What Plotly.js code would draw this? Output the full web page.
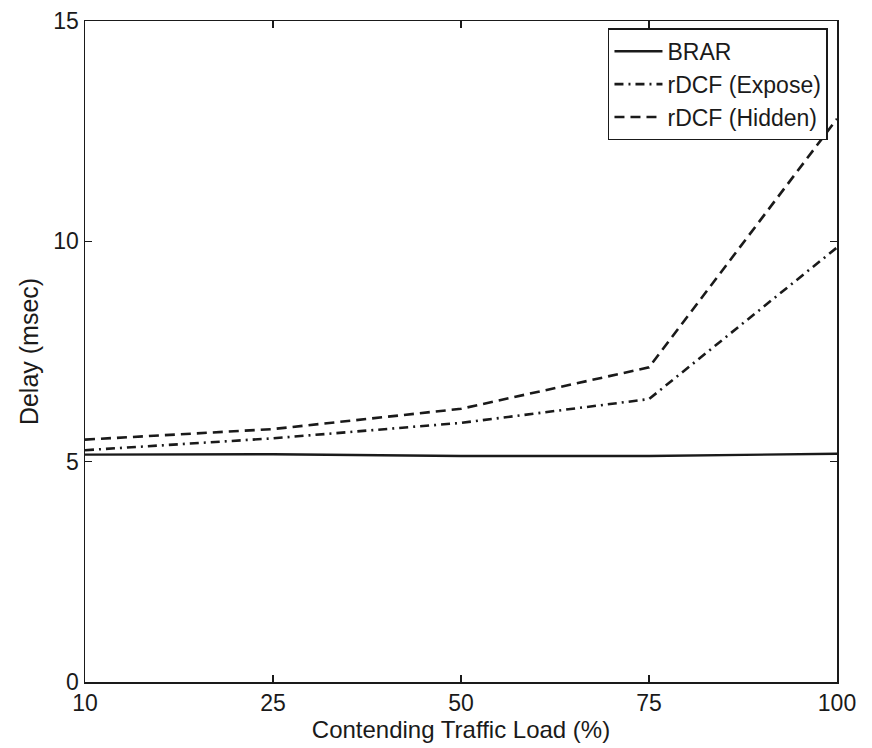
<!DOCTYPE html>
<html>
<head>
<meta charset="utf-8">
<script src="https://cdn.plot.ly/plotly-3.0.1.min.js"></script>
<style>html,body{margin:0;padding:0;background:#fff;}#chart{width:872px;height:748px;}</style>
</head>
<body>
<div id="chart"></div>
<script>
const loadLabels = ["10", "25", "50", "75", "100"];
const brarDelay = [5.16, 5.17, 5.13, 5.13, 5.18];
const exposeDelay = [5.26, 5.53, 5.88, 6.42, 9.86];
const hiddenDelay = [5.5, 5.74, 6.2, 7.14, 12.78];
const yTicks = [0, 5, 10, 15];

const font = "Liberation Sans, Arial, sans-serif";
const ink = "#1a1a1a";

const traces = [
  {x: loadLabels, y: brarDelay, name: "BRAR", type: "scatter", mode: "lines",
   line: {color: ink, width: 2.4, dash: "solid"}},
  {x: loadLabels, y: exposeDelay, name: "rDCF (Expose)", type: "scatter", mode: "lines",
   line: {color: ink, width: 2.6, dash: "9px,5px,2px,5px"}},
  {x: loadLabels, y: hiddenDelay, name: "rDCF (Hidden)", type: "scatter", mode: "lines",
   line: {color: ink, width: 2.6, dash: "10px,6px"}}
];

const axisCommon = {
  showline: true, linecolor: ink, linewidth: 1.5, mirror: "ticks",
  ticks: "inside", ticklen: 7, tickwidth: 1.5, tickcolor: ink,
  showgrid: false, zeroline: false,
  tickfont: {family: font, size: 23, color: ink}
};

const layout = {
  width: 872, height: 748,
  margin: {l: 85, r: 35, t: 21, b: 66},
  paper_bgcolor: "#fff", plot_bgcolor: "#fff",
  showlegend: true,
  legend: {
    x: 0.988, xanchor: "right", y: 0.989, yanchor: "top",
    bordercolor: ink, borderwidth: 1.5, bgcolor: "#fff",
    font: {family: font, size: 23, color: ink},
    itemwidth: 48,
    tracegroupgap: 0
  },
  xaxis: Object.assign({}, axisCommon, {
    type: "category", range: [0, 4],
    title: {text: "Contending Traffic Load (%)", font: {family: font, size: 24, color: ink}, standoff: 2}
  }),
  yaxis: Object.assign({}, axisCommon, {
    range: [0, 15], tickvals: yTicks, ticktext: yTicks.map(String),
    title: {text: "Delay (msec)", font: {family: font, size: 25, color: ink}, standoff: 7}
  })
};

Plotly.newPlot("chart", traces, layout, {displayModeBar: false, staticPlot: true});
</script>
</body>
</html>
